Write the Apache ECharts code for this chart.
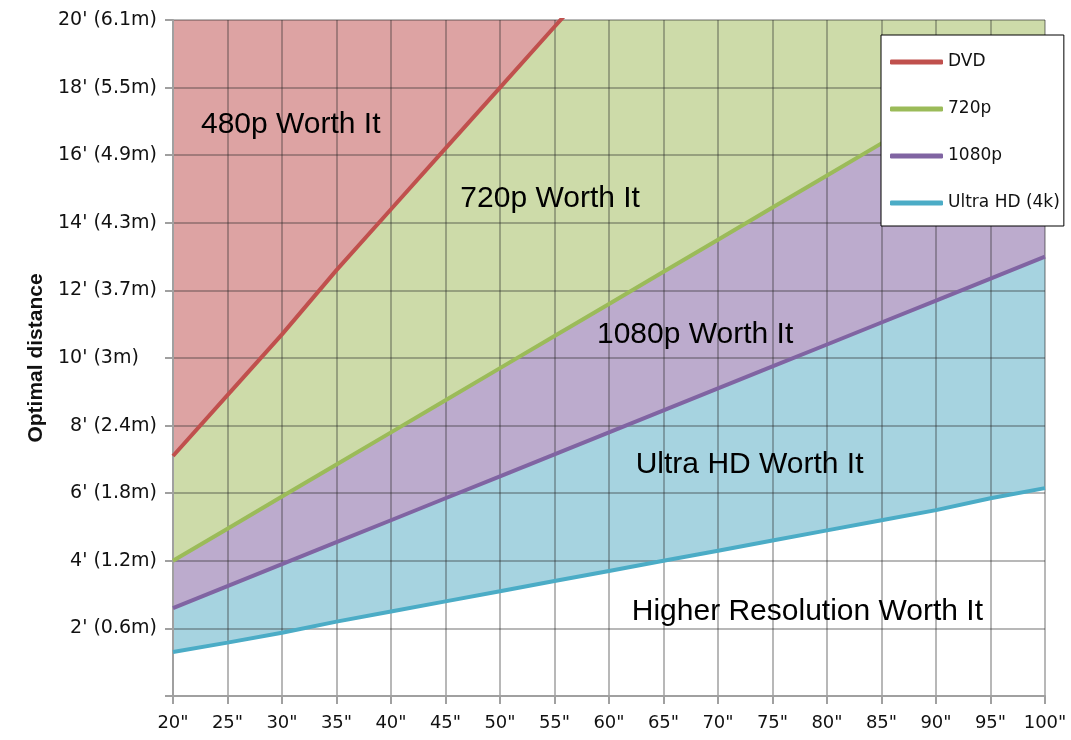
<!DOCTYPE html>
<html>
<head>
<meta charset="utf-8">
<script src="https://cdn.jsdelivr.net/npm/echarts@6/dist/echarts.min.js"></script>
<style>
  html, body { margin: 0; padding: 0; background: #fff; }
  #chart { width: 1071px; height: 740px; }
</style>
</head>
<body>
<div id="chart"></div>
<script>
// screen size in inches
const sizes = [20, 25, 30, 35, 40, 45, 50, 55, 60, 65, 70, 75, 80, 85, 90, 95, 100]
// optimal distance in feet
const dvd = [7.1, 8.9, 10.7, 12.6, 14.4, 16.2, 18.0, 19.8, 21.6]
const hd720 = [4.0, 4.95, 5.9, 6.85, 7.8, 8.75, 9.7, 10.65, 11.6, 12.55, 13.5, 14.45, 15.4, 16.35, 17.3, 18.25, 19.2]
const hd1080 = [2.6, 3.25, 3.9, 4.55, 5.2, 5.85, 6.5, 7.15, 7.8, 8.45, 9.1, 9.75, 10.4, 11.05, 11.7, 12.35, 13.0]
const uhd = [1.3, 1.58, 1.87, 2.2, 2.5, 2.8, 3.1, 3.4, 3.7, 4.0, 4.3, 4.6, 4.9, 5.2, 5.5, 5.85, 6.15]

const seriesNames = ['DVD', '720p', '1080p', 'Ultra HD (4k)']
const regionNames = ['480p Worth It', '720p Worth It', '1080p Worth It', 'Ultra HD Worth It', 'Higher Resolution Worth It']
const yTickLabels = {
  2: "2' (0.6m)", 4: "4' (1.2m)", 6: "6' (1.8m)", 8: "8' (2.4m)", 10: "10' (3m)   ",
  12: "12' (3.7m)", 14: "14' (4.3m)", 16: "16' (4.9m)", 18: "18' (5.5m)", 20: "20' (6.1m)"
}

const lineColors = ['#c0504d', '#9bbb59', '#8064a2', '#4bacc6']
const fillColors = ['#dda3a3', '#cddba9', '#bcabcd', '#a6d3e0']
const textColor = '#111'

const pairs = vals => vals.map((v, i) => [sizes[i], v])
const allData = [dvd, hd720, hd1080, uhd]

// filled bands: each fills from its line up to the top, later ones cover earlier ones
const areaSeries = [3, 2, 1, 0].map(i => ({
  name: seriesNames[i] + ' area',
  type: 'line',
  z: 1,
  silent: true,
  showSymbol: false,
  data: pairs(allData[i]),
  lineStyle: { width: 0 },
  areaStyle: { origin: 'end', color: fillColors[i], opacity: 1 }
}))

const lineSeries = [0, 1, 2, 3].map(i => ({
  name: seriesNames[i],
  type: 'line',
  z: 3,
  showSymbol: false,
  data: pairs(allData[i]),
  color: lineColors[i],
  lineStyle: { width: 4, color: lineColors[i] }
}))

const labelAnchors = [[30.8, 16.9], [54.6, 14.7], [67.9, 10.7], [72.9, 6.83], [78.2, 2.49]]
const labelSeries = {
  name: 'regions',
  type: 'scatter',
  z: 4,
  silent: true,
  symbolSize: 1,
  itemStyle: { color: 'rgba(0,0,0,0)' },
  label: {
    show: true,
    position: 'inside',
    formatter: p => regionNames[p.dataIndex],
    fontFamily: 'Liberation Sans',
    fontSize: 30,
    color: '#000',
    opacity: 1,
    textBorderWidth: 0
  },
  data: labelAnchors
}

const gridColor = 'rgba(40,40,40,0.33)'
const axisColor = '#a0a0a0'

const option = {
  animation: false,
  backgroundColor: '#fff',
  grid: { left: 173, right: 26, top: 20, bottom: 44 },
  legend: {
    data: seriesNames,
    orient: 'vertical',
    left: 881,
    top: 35,
    z: 10,
    padding: [17, 4, 13, 9],
    itemGap: 27,
    itemWidth: 53,
    itemHeight: 5,
    icon: 'roundRect',
    backgroundColor: '#fff',
    borderColor: '#000',
    borderWidth: 1,
    textStyle: { fontFamily: 'DejaVu Sans', fontSize: 17, color: textColor, lineHeight: 20 }
  },
  xAxis: {
    type: 'value',
    min: 20,
    max: 100,
    interval: 5,
    z: 2,
    axisLine: { show: true, lineStyle: { color: axisColor, width: 2 } },
    axisTick: { show: true, length: 8, lineStyle: { color: axisColor, width: 2 } },
    axisLabel: {
      margin: 18,
      formatter: v => v + '"',
      fontFamily: 'DejaVu Sans',
      fontSize: 18,
      color: textColor
    },
    splitLine: { show: true, lineStyle: { color: gridColor, width: 2 } }
  },
  yAxis: {
    type: 'value',
    min: 0,
    max: 20,
    interval: 2,
    z: 2,
    name: 'Optimal distance',
    nameLocation: 'middle',
    nameGap: 120,
    nameTextStyle: { fontFamily: 'Liberation Sans', fontWeight: 'bold', fontSize: 21, color: textColor },
    axisLine: { show: true, lineStyle: { color: axisColor, width: 2 } },
    axisTick: { show: true, length: 8, lineStyle: { color: axisColor, width: 2 } },
    axisLabel: {
      margin: 16,
      formatter: v => yTickLabels[v] || '',
      fontFamily: 'DejaVu Sans',
      fontSize: 19,
      color: textColor
    },
    splitLine: { show: true, lineStyle: { color: gridColor, width: 2 } }
  },
  series: [...areaSeries, ...lineSeries, labelSeries]
}

const chart = echarts.init(document.getElementById('chart'), null, { renderer: 'canvas' })
chart.setOption(option)
</script>
</body>
</html>
